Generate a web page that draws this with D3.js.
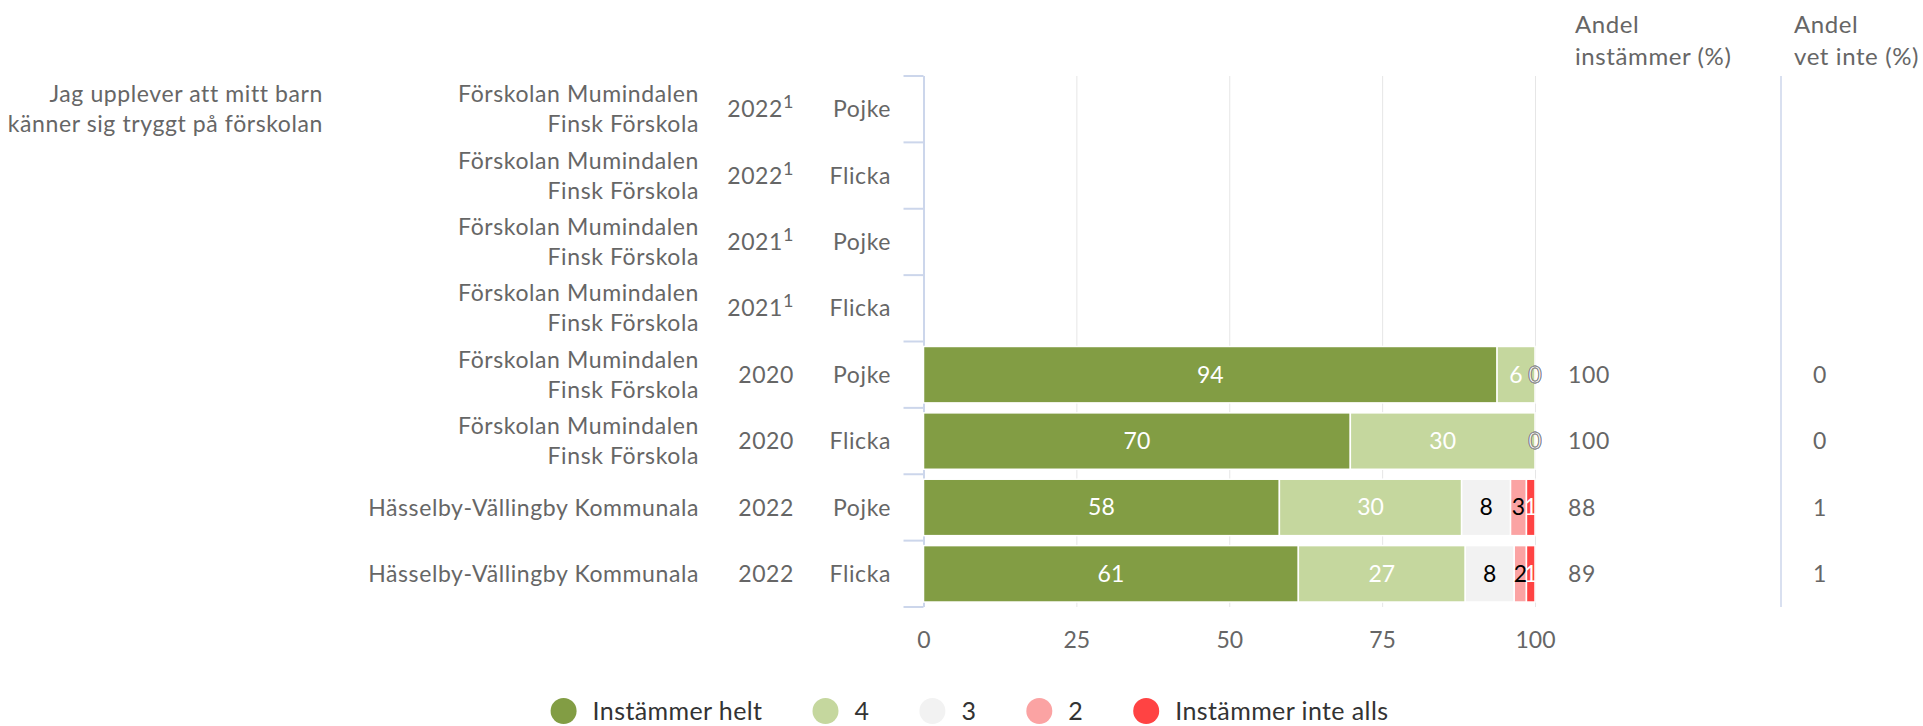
<!DOCTYPE html>
<html lang="sv">
<head>
<meta charset="utf-8">
<title>Trygghet på förskolan</title>
<script src="https://cdn.jsdelivr.net/npm/d3@7"></script>
<style>
    body { margin: 0; background: #fff; }
    svg { display: block; font-family: Lato, "Noto Sans", sans-serif; }
    .lbl { font-size: 23px; letter-spacing: 0.6px; fill: #666; }
</style>
</head>
<body>
<div id="container"></div>
<script>
// données du graphique
const questionLines = ["Jag upplever att mitt barn", "känner sig tryggt på förskolan"];
const schools = [
    ["Förskolan Mumindalen", "Finsk Förskola"],
    ["Förskolan Mumindalen", "Finsk Förskola"],
    ["Förskolan Mumindalen", "Finsk Förskola"],
    ["Förskolan Mumindalen", "Finsk Förskola"],
    ["Förskolan Mumindalen", "Finsk Förskola"],
    ["Förskolan Mumindalen", "Finsk Förskola"],
    ["Hässelby-Vällingby Kommunala"],
    ["Hässelby-Vällingby Kommunala"]
];
const years = ["2022", "2022", "2021", "2021", "2020", "2020", "2022", "2022"];
const footnotes = ["1", "1", "1", "1", "", "", "", ""];
const genders = ["Pojke", "Flicka", "Pojke", "Flicka", "Pojke", "Flicka", "Pojke", "Flicka"];

const seriesNames = ["Instämmer helt", "4", "3", "2", "Instämmer inte alls"];
const instammerHelt = [null, null, null, null, 93.8, 69.8, 58.2, 61.3];
const svar4 = [null, null, null, null, 6.2, 30.2, 29.8, 27.3];
const svar3 = [null, null, null, null, 0, 0, 8.0, 8.0];
const svar2 = [null, null, null, null, 0, 0, 2.6, 2.0];
const instammerInteAlls = [null, null, null, null, 0, 0, 1.4, 1.4];

const andelInstammer = [null, null, null, null, 100, 100, 88, 89];
const andelVetInte = [null, null, null, null, 0, 0, 1, 1];

const xTicks = [0, 25, 50, 75, 100];

// couleurs
const seriesColors = ["#829d44", "#c5d79e", "#f2f2f2", "#fba3a3", "#ff4343"];
const labelColors = ["#fff", "#fff", "#000", "#000", "#fff"];

const width = 1923;
const height = 726;

/**
 * Dessin du graphique
 */
function drawChart() {
    const svg = d3.select("#container")
    .append("svg")
    .attr("width", width)
    .attr("height", height);

    const series = [instammerHelt, svar4, svar3, svar2, instammerInteAlls];

    // échelles
    const x = d3.scaleLinear()
    .domain([0, 100])
    .range([923.5, 1535]);

    const y = d3.scaleBand()
    .domain(d3.range(years.length))
    .range([76, 607])
    .paddingInner(0.15)
    .paddingOuter(0.075);

    const step = y.step();
    const top = y.range()[0];

    // lignes de la grille
    svg.append("g")
    .selectAll("line")
    .data(xTicks)
    .enter()
    .append("line")
    .attr("x1", d => x(d) + 0.5)
    .attr("x2", d => x(d) + 0.5)
    .attr("y1", y.range()[0])
    .attr("y2", y.range()[1])
    .attr("stroke", d => d === 0 ? "#ccd6eb" : "#e6e6e6")
    .attr("stroke-width", d => d === 0 ? 2 : 1);

    // axe x
    const xAxis = d3.axisBottom(x)
    .tickValues(xTicks)
    .tickSize(0)
    .tickPadding(25);

    const gx = svg.append("g")
    .attr("transform", `translate(0, ${y.range()[1]})`)
    .call(xAxis);
    gx.select(".domain").remove();
    gx.selectAll("text")
    .attr("fill", "#666")
    .style("font-size", "23px")
    .style("font-family", "Lato, sans-serif");

    // graduations de l'axe y (limites des catégories)
    svg.append("g")
    .selectAll("line")
    .data(d3.range(years.length + 1))
    .enter()
    .append("line")
    .attr("x1", x(0) - 20)
    .attr("x2", x(0))
    .attr("y1", i => top + i * step)
    .attr("y2", i => top + i * step)
    .attr("stroke", "#ccd6eb")
    .attr("stroke-width", 2);

    // séparateur de la colonne "vet inte"
    svg.append("line")
    .attr("x1", 1781)
    .attr("x2", 1781)
    .attr("y1", y.range()[0])
    .attr("y2", y.range()[1])
    .attr("stroke", "#ccd6eb")
    .attr("stroke-width", 1.5);

    // empilement des séries
    const stacked = [];
    years.forEach(function(yr, i) {
        let start = 0;
        series.forEach(function(s, k) {
            if (s[i] === null) return;
            stacked.push({ row: i, k: k, v: s[i], x0: start, x1: start + s[i] });
            start += s[i];
        });
    });

    // barres
    svg.append("g")
    .selectAll("rect")
    .data(stacked)
    .enter()
    .append("rect")
    .attr("x", d => x(d.x0))
    .attr("y", d => y(d.row))
    .attr("width", d => Math.max(0, x(d.x1) - x(d.x0)))
    .attr("height", y.bandwidth())
    .attr("fill", d => seriesColors[d.k])
    .attr("stroke", "#fff")
    .attr("stroke-width", 1.5);

    // étiquettes des valeurs
    svg.append("g")
    .selectAll("text")
    .data(stacked)
    .enter()
    .append("text")
    .attr("x", d => (x(d.x0) + x(d.x1)) / 2)
    .attr("y", d => y(d.row) + y.bandwidth() / 2)
    .attr("dy", "0.35em")
    .attr("text-anchor", "middle")
    .attr("fill", d => labelColors[d.k])
    .attr("stroke", d => d.v === 0 ? "#888" : "none")
    .attr("stroke-width", 0.8)
    .style("font-size", "23px")
    .text(d => Math.round(d.v));

    // libellé de la question
    svg.append("text")
    .attr("class", "lbl")
    .attr("text-anchor", "end")
    .selectAll("tspan")
    .data(questionLines)
    .enter()
    .append("tspan")
    .attr("x", 323)
    .attr("y", (d, i) => 102 + i * 30)
    .text(d => d);

    // libellés des lignes
    const rows = svg.append("g")
    .selectAll("g")
    .data(years)
    .enter()
    .append("g")
    .attr("transform", (d, i) => `translate(0, ${y(i) + y.bandwidth() / 2})`);

    rows.append("text")
    .attr("class", "lbl")
    .attr("text-anchor", "end")
    .each(function(d, i) {
        const lines = schools[i];
        d3.select(this).selectAll("tspan")
        .data(lines)
        .enter()
        .append("tspan")
        .attr("x", 699)
        .attr("y", (l, j) => (j - (lines.length - 1) / 2) * 30)
        .attr("dy", "0.35em")
        .text(l => l);
    });

    const yearText = rows.append("text")
    .attr("class", "lbl")
    .attr("x", 794)
    .attr("dy", "0.35em")
    .attr("text-anchor", "end")
    .text(d => d);

    yearText.append("tspan")
    .attr("dy", -9)
    .style("font-size", "18px")
    .text((d, i) => footnotes[i]);

    rows.append("text")
    .attr("class", "lbl")
    .attr("x", 891)
    .attr("dy", "0.35em")
    .attr("text-anchor", "end")
    .text((d, i) => genders[i]);

    // colonnes de droite
    rows.append("text")
    .attr("class", "lbl")
    .attr("x", 1568)
    .attr("dy", "0.35em")
    .text((d, i) => andelInstammer[i] === null ? "" : andelInstammer[i]);

    rows.append("text")
    .attr("class", "lbl")
    .attr("x", 1813)
    .attr("dy", "0.35em")
    .text((d, i) => andelVetInte[i] === null ? "" : andelVetInte[i]);

    // en-têtes des colonnes
    const headers = [
        { x: 1575, lines: ["Andel", "instämmer (%)"] },
        { x: 1794, lines: ["Andel", "vet inte (%)"] }
    ];
    headers.forEach(function(h) {
        svg.append("text")
        .attr("class", "lbl")
        .style("font-size", "24px")
        .selectAll("tspan")
        .data(h.lines)
        .enter()
        .append("tspan")
        .attr("x", h.x)
        .attr("y", (d, i) => 33 + i * 32)
        .text(d => d);
    });

    // légende
    const legend = svg.append("g");
    const items = legend.selectAll("g")
    .data(seriesNames)
    .enter()
    .append("g");

    items.append("circle")
    .attr("r", 13)
    .attr("cx", 13)
    .attr("cy", 0)
    .attr("fill", (d, i) => seriesColors[i]);

    items.append("text")
    .attr("x", 42)
    .attr("dy", "0.35em")
    .attr("fill", "#333")
    .style("font-size", "25px")
    .style("letter-spacing", "0.4px")
    .text(d => d);

    let pos = 0;
    items.each(function() {
        const w = this.querySelector("text").getComputedTextLength();
        d3.select(this).attr("transform", `translate(${pos}, 711)`);
        pos += 42 + w + 50;
    });
    const total = pos - 50;
    legend.attr("transform", `translate(${550 + (839 - total) / 2}, 0)`);
}

// appel de la fonction
drawChart();
</script>
</body>
</html>
